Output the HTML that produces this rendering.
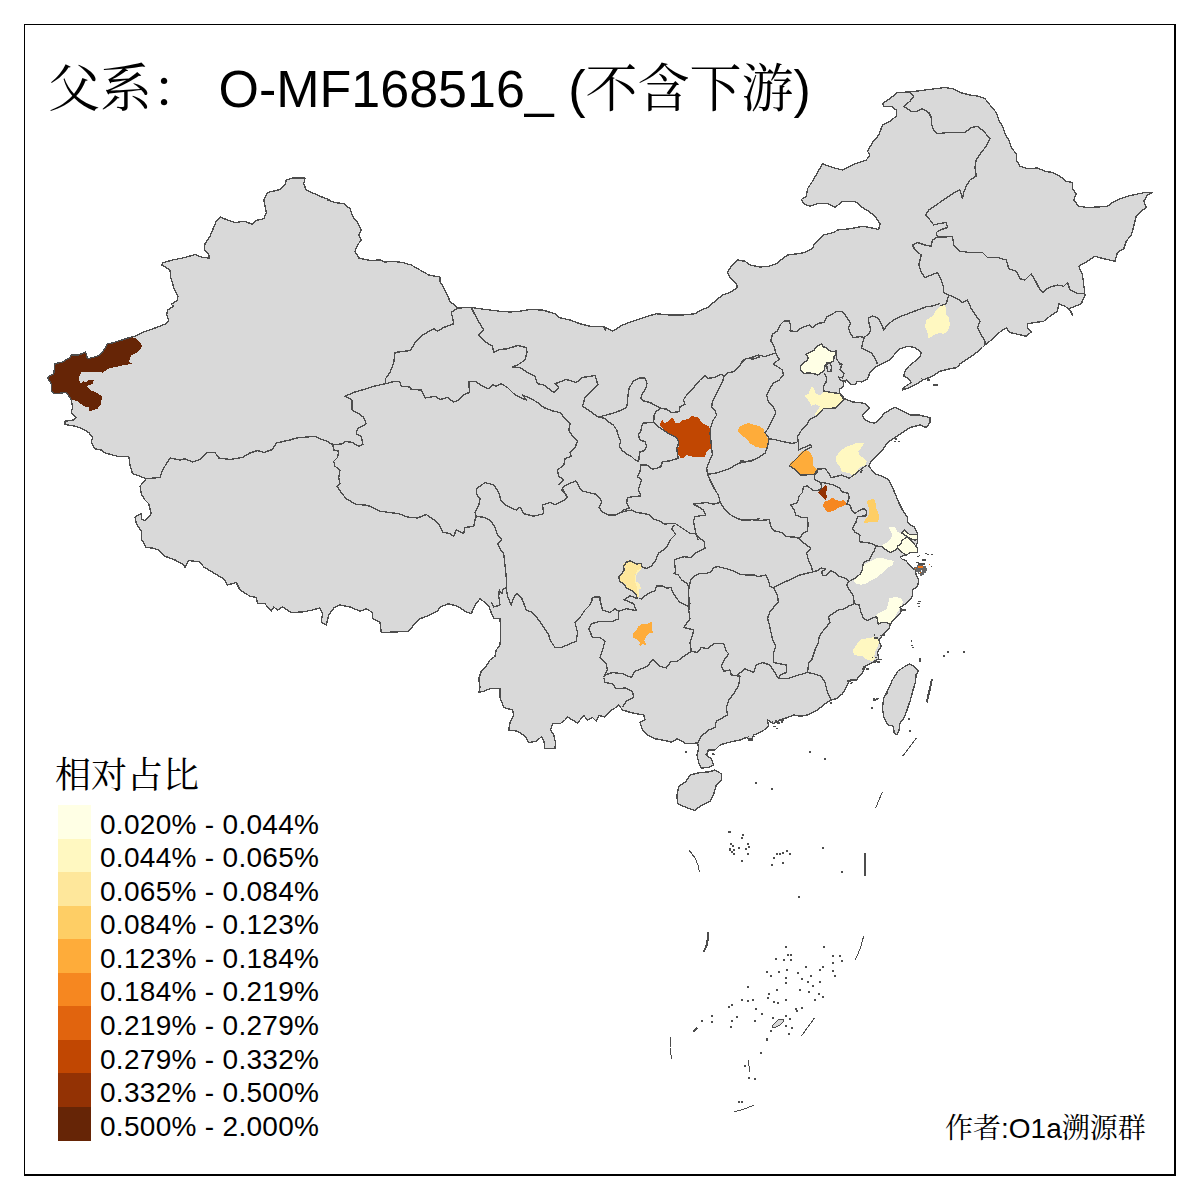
<!DOCTYPE html>
<html><head><meta charset="utf-8"><title>map</title>
<style>
html,body{margin:0;padding:0;background:#fff;}
body{width:1200px;height:1200px;overflow:hidden;position:relative;}
svg{position:absolute;left:0;top:0;}
text{font-family:"Liberation Sans","Noto Serif CJK SC",serif;fill:#000;}
.lt{font-size:28px;letter-spacing:0.3px;}
.t{font-size:52px;}
.cr{font-size:28px;}
.lg{font-size:36px;}
</style></head><body>
<svg width="1200" height="1200" viewBox="0 0 1200 1200">
<rect x="0" y="0" width="1200" height="1200" fill="#fff"/>
<g shape-rendering="crispEdges" stroke-linejoin="round">
<path d="M330,200L320,196.25L306.25,190L303.75,183.75L305,178L292.5,178L286.25,180L285,185L280,189.5L267.5,192.5L263.75,200L266.25,212.5L263.75,218.75L256.25,220.5L252.5,224.5L245,221.25L235,222.5L227.5,220L220,217L216.25,221.25L210,236.25L205,243.75L204.25,250L208.75,254.5L209.5,258L202.5,257.5L195,254.5L185,257.5L172.5,260L162.5,263L161.75,265L170,270L170.75,277.5L173.75,287.5L178,296.25L177.5,300L171.25,304.5L173.75,306.25L167.5,310L166.75,315L168.75,320L166.25,323.75L155,328L142.5,332.5L135,336.25L131.25,337L112.5,343L107.5,343.75L102.5,352.5L97.5,356.25L87.5,358.75L85.5,352L78.75,355L71.25,355L70,357.5L62.5,362L55,363.75L53.75,373.75L47.5,377.5L51.25,383.75L51.25,391.25L55,393.75L66.25,392.5L71.25,399.5L72.5,407.5L71.25,412.5L76.25,417.5L73.75,420L65,421.25L65,424.5L75,426.25L82.5,428.75L88.75,432.5L92.5,437.5L91.25,442.5L95,448.75L101.25,450L105,453L117.5,456.25L128.75,456.25L130,465L132.5,473.75L140,476.25L146.25,478.75L140,486.25L141.25,493.75L145,500L148.75,503.75L151.25,513.75L145,520.5L141.25,518.75L141.25,513.75L135,517L136.25,523.75L141.25,531.25L141.25,538.75L146.25,547.5L152.5,548L158.75,550L165,556.25L175,560L183.75,564.5L185,568L188.75,560.5L200,562L203.75,567L215,573.75L223.75,578.75L227.5,585L236.25,582.5L240,590L250,596.25L256.25,597.5L257.5,603.75L265,603.75L271.25,611.25L273.75,607L277.5,610L282.5,607L291.25,612.5L302.5,612L312.5,610L320,608L322.5,613.75L321.25,622.5L326.25,625L328.75,615L333.75,608L340,605L350,607L360,611.25L366.25,608.75L372.5,612.5L372.5,618.75L380,622.5L381.25,632.5L395,632L408.75,631.25L413.75,625L420,618.75L430,615L437.5,611.25L440,607L448.75,603.75L457.5,606.25L465,611.25L471.25,613.75L475,605L480,598.75L485,602.5L488.75,606.25L491.25,612.5L493.75,618.75L500,618.75L500.75,632.5L500,645L496.25,650L495,656.25L490,660L486.25,666.25L481.25,671.25L478.75,678.75L480,687.5L478.75,692.5L483.75,691.25L490,688.75L500,688.75L500,697.5L503.75,707.5L512.5,710L513.75,715L510,722.5L508.75,730L517.5,731.25L525,736.25L528.75,742.5L536.25,741.25L541.25,737L543.75,740L545,748.75L555,748.75L555.5,742.5L553.75,735L550.5,730L552.5,723.75L560,723.75L565,720L567.5,717L577.5,723L583.75,715.5L587.5,720L592.5,717.5L596.25,721.25L598.75,715.5L605,717L610,711.25L615,708L618.75,705L622.5,710L632.5,713L643.75,715L645,719.5L640,722.5L642.5,730L647.5,735L655,738.75L665,740.5L671.25,742L677.5,738.75L686.25,743.75L697.5,743L698.75,747.5L697,755L698.75,762.5L701.25,768L708.75,767.5L713.75,765L711.25,758.75L706.25,755L708.75,750L715,750L720,745L726.25,743L733.75,741.25L740,740L746.25,737.5L751.25,740L753.75,735L762.5,731.25L768.75,726.25L767.5,720L773.75,723.75L780,720L787.5,717.5L793.75,715L800,716.25L807.5,715L817.5,710L825,703.75L831.25,700L836.25,698.75L842.5,693.75L847.5,685L850,680L856.25,680L862.5,672.5L865,666.25L872.5,662.5L878.75,658.75L877.5,652.5L881.25,646.25L878.75,640L883.75,633.75L888.75,628.75L891.25,622.5L897.5,616.25L902.5,610L900,607.5L907.5,602.5L912.5,596.25L912.5,590L917.5,586.25L918.75,580L916.25,575L915,569.5L913,569L911,566.5L908,563.5L906,560.5L902.5,559.5L900.25,557.25L904,555.5L906,555.25L910.5,552.5L917.5,552.75L917.5,548L916,545.5L917.5,543L917.5,539L917.25,533.5L916,530L914,526.5L911,525.5L908,523L907.25,520L907.5,517.5L902.5,510L898.75,502.5L896.25,496.25L892.5,487.5L888.75,480L882.5,476.25L875,473.75L868.75,466.25L871.25,461.25L876.25,456.25L882.5,450L887.5,442.5L895,437.5L902.5,432.5L910,427.5L920,425L926.25,427.5L930,422.5L930,417.5L923.75,416.25L918.75,415L910,415L902.5,411.25L895,407.5L890,410L883.75,413.75L880,418.75L875,423L870,422.5L863.75,418.75L862.5,415L866.25,411.25L869.5,407.5L865,403.75L860,402.5L852.5,402L844.75,398.75L839.25,393L839.75,389L843.25,386.75L844,381.25L846.75,379.75L848.75,382.75L852,384.75L856,384L857.25,381.25L862,382L867.5,378.75L870,372.5L875,367.5L882.5,363.75L890,360L895,353.75L900,348.75L907.5,346.25L915,347.5L921.25,352.5L920,356.25L915,361.25L908.75,366.25L905,371.25L903.75,376.25L908.75,378.75L911.25,382.5L903.75,387.5L902,390L910,387.5L917.5,383.75L922.5,380L932.5,376.25L940,371.25L950,368.75L957.5,367.5L960,363.75L967.5,358.75L975,353.75L982.5,347.5L985,345L991.25,340L996.25,335L1002.5,330L1006.25,328L1010,332.5L1018.75,334.5L1026.25,336.25L1031.25,332L1027.5,327.5L1027.5,323.75L1035,322.5L1043.75,321.25L1050,316.25L1057.5,311.25L1058.75,303.75L1065,306.25L1070,310L1072.5,315L1068.75,308.75L1075,306.25L1081.25,303.75L1085,295L1083.75,285L1082.5,275L1078.75,266.25L1087.5,261.25L1095,256.25L1103.75,258.75L1115,261.25L1117.5,252.5L1123.75,248.75L1126.25,241.25L1131.25,235L1133.75,226.25L1136.25,216.25L1141.25,211.25L1146.25,207.5L1143.75,201.25L1147.5,195L1152.5,192.5L1145,192.5L1135,194.5L1127.5,196.25L1120,198.75L1112.5,202.5L1107.5,206.25L1097.5,207L1087.5,207.5L1078.75,206.25L1073.75,200L1076.25,193.75L1072.5,188.75L1072.5,182.5L1066.25,181.25L1060,176.25L1052.5,172.5L1045,171.25L1037.5,168L1027.5,168.75L1020,166.25L1016.25,160L1016.25,153.75L1011.25,147.5L1008.75,140L1005,133.75L1002.5,126.25L998.75,120L996.25,112.5L990,105L985,98.75L978.75,96.25L970,95L960,92.5L952.5,88.75L945,87.5L935,88.75L925,90L910,92L897.5,92.5L891.25,97.5L882.5,103.75L883.75,106.25L891.25,106.25L896.25,110L896.25,116.25L890,121.25L882.5,125L878.75,135L872.5,142.5L867.5,151.25L870,155L866.25,160L855,163.75L842.5,170L832.5,167.5L822.5,163.75L817.5,172.5L812.5,181.25L807.5,188.75L806.25,196.25L801.25,199.5L803.75,203.75L810,206.25L817.5,203.75L827.5,203.75L835,207.5L842.5,201.25L855,201.25L862.5,207.5L868.75,211.25L875,216.25L880,223.75L878.75,229.5L870,227.5L862.5,226.25L850,228.75L837.5,230L833.75,232.5L823.75,235L818.75,240L813.75,245L813.75,247.5L805,252.5L797.5,253.75L787.5,255L782.5,258.75L776.25,263.75L768.75,266.25L760,267L750,265L745,261.25L737.5,260L731.25,266.25L727.5,272.5L730,277.5L736.25,283.75L737.5,287.5L730,292.5L722.5,295L715,301.25L707.5,307.5L701.25,310L695,313.75L682.5,315L670,315L656.25,313.75L643.75,317.5L632.5,321.25L622.5,325L612.5,331.25L605,327.5L605,330L603.75,326.25L590,326.25L580,323.75L570,320L558.75,317.5L555,313.75L542.5,310L530,309.5L520,311.25L510,312L500,311.25L490,310L480,308.75L471.25,307.5L457.5,308L450,301.25L445,290L440,281.25L440,277L428.75,275L420,270L411.25,265L402.5,262.5L392.5,261.25L385,262L380,260L370,260.5L358.75,258L355,251.25L357.5,245L361.25,240L358.75,235L361.25,230L357.5,222.5L352.5,216.25L350,208.75L343.75,203.75L335,202.5L327.5,200ZM690,775L700,772.5L708.75,772L715,770L721.25,773.75L721.25,780L716.25,785L713.75,793.75L710,801.25L700,806.25L695,810.5L686.25,807.5L677.5,803.75L677,795L678.75,786.25L686.25,781.25ZM909.6,664L914,666.4L918.4,671L916,675L915.6,682L913,690L910.4,700L907,710L904,718L900,723L899,730L897,734.4L894.4,733.6L893,726L888,725L884,718L882.4,709L883.6,698L888,690L892.4,680L898,671L904,667Z" fill="#D9D9D9" stroke="none"/>
<path d="M131.25,337L112.5,343L107.5,343.75L102.5,352.5L97.5,356.25L87.5,358.75L85.5,352L78.75,355L71.25,355L70,357.5L62.5,362L55,363.75L53.75,373.75L47.5,377.5L51.25,383.75L51.25,391.25L55,393.75L66.25,392.5L71.25,399.5L77.5,401.25L83.75,406.25L88.75,407.5L89.5,411.25L97.5,408.75L101.25,403.75L101.75,396.25L96.25,392.5L90,390L86.25,386.25L92.5,383.75L93.75,380.5L88.75,379.5L86.25,382.5L83.75,381.25L80,383.75L78.75,377.5L81.25,372L87.5,372L102.5,372.5L110,368L122.5,365.5L132.5,363.75L128.75,362L131.25,355L137.5,352.5L142.5,346.25L140,342.5L135,338Z" fill="#662506" stroke="none"/>
<path d="M651.5,622L652,624.5L652.5,627L651.5,629L653,631.5L652.5,633.5L650,632.5L647,635L645.5,638L644,640.5L646,644L645.5,645.5L643,644L640.5,645.5L639,645L640,642.5L638.5,640.5L636,639L633.5,638L632.5,633.5L634.5,632.5L637,629L638,626.5L641,624.5L643,623.5L646,624L649,623Z" fill="#FEAC3A" stroke="none"/>
<path d="M943.75,303.75L946.25,308.75L945.5,313.75L948.75,317.5L950,325L947.5,331.25L943.75,333.75L938.75,333L933.75,335L928.75,338.75L927.5,332.5L925,326.25L926.25,320L932.5,316.25L936.25,310L941.25,305Z" fill="#FFF8C1" stroke="none"/>
<path d="M660.83,421.67L662.5,420L664.17,423.33L668.33,421.67L670.83,418.33L673.33,418.33L675,422.5L679.17,423.33L682.5,420L688.33,419.17L691.67,416.33L695.83,416.67L699.17,418.33L701.67,422.5L705.83,425L709.17,426.67L710.83,433.33L711.33,441.67L710.83,448.33L706.67,451.67L705,456.67L696.67,457.5L692.5,456.67L686.67,455L683.33,458.33L680,458.33L679.17,455L676.67,453.33L675.83,448.33L678.67,446.67L678.67,440L676.67,436.67L671.67,435L666.67,432.5L663.33,429.17L660,425.83Z" fill="#C14702" stroke="none"/>
<path d="M821.67,343.67L823.33,346.67L826.67,348.33L830,350.83L833.33,351.67L836.33,350.83L835.83,354.17L833.33,357.5L833.33,360.83L830.83,362.5L826.67,363L825,365.83L824.17,370L821.67,372.5L817.5,375L813.33,373.33L808.33,373L804.17,373.33L800.83,370.83L800.33,366.67L802.5,363.33L806.67,360.83L808.33,357.5L805.83,354.17L810,352.5L814.17,350L817.5,345.83Z" fill="#FFFFE5" stroke="none"/>
<path d="M811.67,386.33L814.17,389.17L815.83,393.33L820,395.33L823.33,392.5L826.67,391.67L833.33,392.5L840,393.67L843.33,399.17L835.83,408L823.33,408.67L819.17,413.33L816.67,415.83L815,414.17L817.5,410L820,406.67L815.83,404.17L811.67,405.83L809.17,401.67L806.67,398.33L804.17,395.83L808.33,394.17L810,390Z" fill="#FFF8C1" stroke="none"/>
<path d="M739,427L743.3,425L748.3,422.8L753.3,424.5L757,425.5L760,426.7L763.3,429L765,433L767.5,437.5L768.7,441.7L767.5,448.3L761.7,448.3L755.8,446.7L750,443.3L746.7,439L742.5,435.8L738,431.5Z" fill="#FEAC3A" stroke="none"/>
<path d="M806.67,450L810,452.5L812.5,457.5L812.5,464.17L815,467.5L817,470L815.83,474.17L810,474.67L800.83,475L797.5,471.67L795,468.33L789.17,465.83L790.83,462.5L795.83,459.17L799.17,454.17L803.33,450.83Z" fill="#FEAC3A" stroke="none"/>
<path d="M856.67,442.5L864.17,443.33L860.83,448.33L858.33,451.67L859.67,455.83L864.17,458.33L866.67,460.83L865.83,465L860,467.5L856.67,471.67L853.33,477.5L850,473.33L845.83,472.5L841.67,471.67L840,466.67L836.67,462.5L835.83,457.5L838.33,453.33L842.5,449.17L846.67,446.67L851.67,445Z" fill="#FFF8C1" stroke="none"/>
<path d="M825.83,485L827,487.5L826.33,492.5L826.67,497.5L825.83,500.83L823.33,498.33L820.83,495.83L818.33,492.5L819.17,490L822.5,488.33L824.17,485.83Z" fill="#933204" stroke="none"/>
<path d="M832.5,497.5L835,500L840,500.83L844.17,500L846.67,504.17L843.33,505.83L839.17,507.5L835,510L830.83,511.67L827.5,512L825,509.17L823,505.83L824.17,501.67L827.5,500.83L830.83,499.17Z" fill="#F68720" stroke="none"/>
<path d="M869.17,499.67L874.17,499.17L875.83,503.33L876.33,508.33L878.33,513.33L879.17,518.33L877.5,521.67L871.67,522L864.17,523L865,519.17L868.33,516.67L869.17,510L868,505L866.67,501.67Z" fill="#FECE65" stroke="none"/>
<path d="M889.17,527.5L895,527L897.5,531.67L900.83,533.33L904.17,535L905.83,538.33L902.5,541.67L900,545L897.5,548.33L894.17,550.83L890.83,552.5L887.5,550.83L884.17,549.17L881.67,546.67L883.33,544.17L888.33,541.67L890.83,538.33L892.5,534.17L890,530.83Z" fill="#FFFFE5" stroke="none"/>
<path d="M907,537L912,541.5L917.5,548L917.5,552.5L910.5,552.5L906,555.25L903,553L900,551L897.5,547.5L897.75,546L901,544L902,540.5L906,537.5Z" fill="#FFFFE5" stroke="none"/>
<path d="M901.5,533.25L904.75,530L909.25,534.25L917.25,534.5L917.5,539L915,540L911,539L907,536.5L904,534.5Z" fill="#FFFFE5" stroke="none"/>
<path d="M878.33,557.5L883.33,558.33L889.17,560L894.17,560.83L892.5,565L888.33,567.5L885,570.83L880.83,574.17L876.67,577.5L871.67,580L866.67,583.33L861.67,584.67L856.67,584.17L853.33,580.83L856.67,577.5L860,575L862.5,570L863.33,565L868.33,562.5L873.33,560Z" fill="#FFFFE5" stroke="none"/>
<path d="M889.17,598.33L895.83,597L900.83,598.33L903,601.67L901.67,606.67L898.33,610.83L895.83,615L893.33,620L890.83,624.17L886.67,622.5L881.67,622.5L878.33,624.17L875.83,618.33L876.67,614.17L881.67,611.67L886.67,609.17L888.33,603.33Z" fill="#FFFFE5" stroke="none"/>
<path d="M862.5,639.17L871.67,637.5L875.83,636.67L879.17,641.67L877.5,646.67L875,651.67L874.17,657.5L876.25,656.25L872.5,661.25L867.5,660L862.5,656.25L853.75,655L853,650L856.25,645L860,640Z" fill="#FFF8C1" stroke="none"/>
<path d="M627,560L629,561L632,562.5L635.5,564L638.5,562.5L641,563L642.5,566L641,568.5L637.5,570L636,572.5L635,576L634.8,580L635.5,583L637.5,582L639.5,584L640.5,586.5L640.5,589L637.5,588.5L637,591L638,594L639,597L637.5,598L636,594.5L634.5,592.5L632,591L629,590L626.5,587.5L625.5,584.5L623,583.5L620,582L618.5,579L618,576.8L621,575L623.5,573L625,570L624.5,567.5L623,566L624,563L625.5,561.5Z" fill="#FEE79B" stroke="none"/>
<path d="M641,568.5L637.5,570L636,572.5L635.2,576L635,580L635.6,583L636.6,586L637,590L637.8,594L638.8,597.2L639.6,595L638.8,592L639.2,589.5L640.8,589L640.5,586.5L639.5,584L637.8,582.2L636.2,581.8L636,578L636.8,574L639,571.5L641.2,569.5Z" fill="#FFF1B4" stroke="none"/>
<path d="M146.25,478.75L160,477.5L162.5,470L168.75,460L170,458L180,460L185,458.75L192.5,462L200,459.5L207.5,452.5L215,452.5L218.75,458L230,459.5L242.5,457.5L250,453L257.5,450.5L263.75,452.5L272.5,449.5L276.25,443L290,440L296.25,438L315,436.25L320,438.75L327.5,441.25L332.5,445M332.5,445L332.5,443.75L333.75,450L338.75,451.25L337.5,457.5L333.75,461.25L335,466.25L340,470L338.75,477.5L340,483.75L337,486.25L341.25,492.5L346.25,498.75L356.25,504.5L365,505L370,506.25L380,511.25L390,512.5L398.75,513.75L407.5,517L417.5,518L426.25,514.5L436.25,521.25L440,526.25L442.5,532L450,533.75L453.75,536.25L456.25,530L463.75,533.75L465,527.5L473.75,526.25L475,520L476.25,516.25M476.25,516.25L475,512.5L478.75,505L480,498.75L476.25,493.75L476.25,488.75L480,486.25L485,482.5L493.75,485L498.75,492.5L501.25,501.25L507.5,506.25L516.25,510L520,507L523.75,513.75L533.75,516.25L543.75,513.75L542.5,505L550,502.5L555,505L562.5,501.25L567.5,497.5L562.5,488.75M476.25,516.25L485,517.5L491.25,521.25L495,527.5L497.5,535L502,540L497.5,543.75L500,548.75L503.75,553.75L505,565L506.25,577.5L506.25,587.5M506.25,587.5L507.5,596.25L511.25,605L513.75,597.5L517,593L521.25,597.5L522.5,600M592.5,600L592.5,597.5L600,597M506.25,587.5L502.5,589.5L502,593.75L499.25,590L498.75,596.25L500,605L493.75,607L491.25,602.5M522.5,600L526.25,610L532.5,612.5L538.75,620L543.75,627.5L548.75,635L550,640L555,647.5L561.25,647.5L570,643.75L576.25,641.25L577.5,632.5L575,622.5L580,617.5L585,610L590,605L592.5,600M600,600L602.5,610L610,612.5L615,608.75L618.75,611.25L618.75,618.75L612.5,621.25L600,621.25L591.25,623.75L588.75,628.75L592.5,637.5L600,637.5L605,641.25L602.5,650L600,657.5L606.25,663.75L607.5,670L603.75,677.5M618.75,611.25L626.25,608.75L636.25,610.5L633.75,603.75L625,600M603.75,677.5L605,682.5L612.5,683.75L616.25,688.75L625,688L632.5,691.25L633.75,697.5L626.25,701.25L622.5,707.5M605,675L612.5,672.5L622.5,673.75L631.25,677.5L635,671.25L647.5,666.25L652.5,659.5L660,666.25L666.25,668L671.25,661.25L677.5,661.25L683.75,656.25L691.25,651.25M691.25,651.25L690,642.5L692.5,635L693.75,630L683.75,627.5L690,618.75L688.75,610L690,602.5M691.25,651.25L697.5,652.5L701.25,647.5L707.5,648.75L713.75,643.75L723.75,643.75L726.25,651.25L728.75,653.75L725,658.75L721.25,666.25L723.75,671.25L730,670L731.25,675L740,676.25M740,676.25L738.75,685L733.75,693.75L728.75,700L726.25,707.5L727.5,715L716.25,721.25L715,727.5L708.75,730L701.25,736.25L697.5,743M831.25,700L827.5,692.5L825,682.5L821.25,676.25L813.75,673.75L807.5,672.5M807.5,672.5L808.75,662.5L811.75,660M773.25,660L773.75,662.5L786.25,665L786.25,672.5L780,675L778.75,678.75M778.75,678.75L787.5,678.75L798.75,675L807.5,672.5M778.75,678.75L770,665L762.5,662.5L756.25,665L753.75,672.5L745,668.75L737.5,675M910,92L913.75,96.25L910,101.25L903.75,106.25L911.25,111.25L917.5,111.25L922.5,108.75L928.75,112.5L931.25,117.5L931.25,123.75L933.75,130L937.5,133.75L947.5,132.5L955,132.5L965,132.5L971.25,127.5L977.5,126.25L983.75,131.25L990,138.75L986.25,146.25L981.25,152.5L976.25,160L975,167.5L976.25,176.25L970,180L966.25,186.25L963.75,192.5L962.5,198.75L960,190L952.5,193.75L945,198.75L936.25,205L928.75,210L925.5,215L930,220L933.75,225L938.75,223.75L946.25,222.5L947.5,227.5L940,230L936.25,232.5L937.5,237M937.5,237L945,237L952.5,236.25L953.75,245L960,251.25L970,252.5L982.5,252.5L987.5,257.5L997.5,257.5L1006.25,260L1008.75,268.75L1016.25,271.25L1020,278.75L1025,280L1031.25,273.75L1035,280L1038.75,287.5L1042.5,292.5L1048.75,287.5L1057.5,285L1063.75,286.25L1067.5,282.5L1070,290L1077.5,293.75L1085,293.75M937.5,237L932.5,240L931.25,246.25L925,245L917.5,242.5L912.5,245L915,250L921.25,255L918.75,265L921.25,272.5L925,277.5L931.25,275L937.5,272.5L941.25,280L943.75,287.5L943.75,292.5L948.75,295M948.75,295L957.5,298.75L962.5,302.5L967.5,300L971.25,308.75L976.25,316.25L980,321.25L977.5,327.5L981.25,335L985,341.25L985,345M948.75,295L946.25,303.75L940,305.75M457.5,308L451.25,312.5L452.5,317.5L453.75,323.75L443.75,327.5L437.5,331.25L433.75,328.75L422.5,335L415,342.5L410.5,350.5L395,352.5L393.75,362.5L390,372.5L385.5,378.75L385.5,383.75M471.25,307.5L475,315L480,323.75L483.75,330L478.75,335L486.25,342.5L492.5,346.25L493.75,352.5L500,349.5L507.5,348.75L517.5,345.5L526.25,347.5L527,352.5L525,360L517.5,365L512.5,367L520,367.5L527.5,372.5L535,376.25L537.5,383.75L543.75,385L548.75,388.75L553.75,392.5L558.75,387.5L555,383.75L566.25,379.5L576.25,382.5L582.5,377.5L595,375.5L598,385L591.25,391.25L585,397.5L582.5,406.25L590,411.25L598.75,417.5M385.5,383.75L373.75,386.25L363.75,389.5L355,392L345,396.25L352,400L352,410L358.75,413.75L363.75,417.5L366.25,423.75L357.5,428.75L356.25,433.75L361.25,436.25L363,444.5L358.75,446.25L352.5,442.5L345,441.25L342.5,443.75L332.5,445M385.5,383.75L395,381.25L400,382L401.25,386.25L410,387L411.25,389.5L421.25,390L425,398L435,396.25L440,399.5L447.5,397.5L453.75,402L458.75,400L463.75,394.5L469.5,392.5L468.75,381.25L475,381.25L482.5,386.25L488.75,388.75L492.5,384.5L496.25,386.25L501.25,383.75L507.5,387.5L513.75,393.75L520,397.5L526.25,400L522.5,395L531.25,398.75L537.5,402.5L543.75,407.5L553.75,411.25L560,412.5L566.25,420L570,423.75L568.75,430L572.5,436.25L577.5,441.25L575,447.5L570,452.5L571.25,456.25L565,458.75L563.75,465L557.5,470L558.75,476.25L563.75,480L558.75,485M598.33,417L606.67,415L615,412.5L621.67,410L626.67,407.5L627.5,401.67L628,395L629.17,388.33L633.33,380.83L640,378L645,378L647,383.33L645.83,388.33L642.5,393.33L640.83,398.33L643.33,400.83L650,402.5L653.33,404.17L658.33,407L660.83,408.33M660.83,408.33L656.67,410.83L654.17,415L653.67,422.5M653.67,422.5L643.33,423L641.67,426.67L640.83,430.83L638.33,435L640,440L645,441.67L646.67,446.67L644.17,450.83L640,451.67L639.17,456.67L638.67,461.67M598.33,417L605,418.33L608.33,421.67L613.33,425L616.67,430L618.33,435.83L620.83,440.83L619.17,445.83L621.67,450L626.67,454.17L631.67,456.67L635,460L638.67,461.67M660.83,408.33L666.67,409.17L671.67,412.5L679.17,411.67L680,406.67L685,404.17L683.33,400L686.67,395L691.67,390L695,385.83L700,380L705,375.83L708.33,378.33L715,377.5L720.83,374.17L724.17,375.83M724.17,375.83L728.33,372.5L734.17,371.67L739.17,366.67L742.5,360.83L746.67,358.33L753.33,359.17L760,356.67M724.17,375.83L722.5,381.67L719.17,388.33L715.83,395L712.5,401.67L711.67,406.67L715,410.83L716.67,415L713.33,420L710.83,426.67L710,433.33L710.83,440L711.67,448.33L712.5,455L709.17,461.67L706.67,468.33L707.5,474.17M707.5,474.17L715,473.33L723.33,470.83L730,468.33L738.33,463.33L746.67,461.67L755,459.17L760,456.67M653.67,422.5L658.33,426.67L663.33,430L668.33,433.33L673.33,435.83L677.5,438.33L678.67,443.33L676.67,448.33L677.5,454.17L678.33,458.33L670,460.83L662.5,461.67L660.83,466.67L656.67,468.33L652.5,469.17L646.67,465L640.83,465L640,471.67L637.5,476.67L641.67,480L639.67,485L638.33,490L640.83,495.83L633.33,496.67L627.5,497.5L626.67,502.5L629.17,508.33L623.33,510L620.83,512.5M707.5,474.17L710,480L712.5,485L715,490L718.33,495L720.33,502.5M720.33,502.5L713.33,504.17L706.67,502.5L700,503.33L693.33,504.17L698.33,506.67L703.33,510L705.83,515L700,515.83L695,516.67L693.33,520.83L694.67,526.67L695.83,533.33L698.33,540M720.33,502.5L724.17,508.33L728.33,513.33L735,517.5L741.67,520L750,520L756.67,519.17L760,518.33M620.83,512.5L626.67,510.83L631.67,510L636.67,512.5L643.33,513.33L650,515L653.33,519.17L659.17,520.83L665,524.17L670,523.33L675,523.33M675,523.33L680,526.67L685,530L690,533.33L695.83,533.33M620.83,512.5L615,515L608.33,515L601.67,511.67L599.17,507.5L601.67,502.5L600,498.33L595.83,494.17L588.33,492.5L581.67,490.83L579.17,486.67L575.83,480.83L570,483.33L563.33,486.67L561.67,490L565,493.33L567.5,497.5L563.33,500.83L560,502.5M740,364.17L745,359.17L751.67,357.5L758.33,355L765,356.67L771.67,354.17L775.83,353.33M775.83,353.33L774.17,346.67L770.83,340.83L772.5,334.17L777.5,330.83L780,325L784.17,320.83L789.17,320.83L790.83,326.67L790,330.83L796.67,331.67L801.67,327.5L809.17,325L812.5,327.5L818.33,323.33L824.17,322.5L826.67,316.67L832.5,314.17L835.83,311.67L841.67,311.33L845.83,315.83L848.33,320L850.83,323.33L848.33,328.33L850.83,334.17L853.33,337.5L860,336.67L864.17,337.5M864.17,337.5L868.33,334.17L870.83,330L869.17,324.17L868.33,318.33L872.5,315.83L878.33,318.33L881.67,324.17L883.67,330L887.5,325L893.33,320L900,316.67L906.67,314.17L913.33,311.67L920,309.17L926.67,306.67L933.33,305.83L940,303.33M864.17,337.5L862.5,343.33L861.67,348.33L866.67,350.83L871.67,353.33L875,358.33L877.5,364.17M775.83,353.33L779.17,359.17L773.33,364.17L777.5,366.67L782.5,370L783.33,375L779.17,380L773.33,383.33L770,388.33L766.67,395L768.33,401.67L773.33,406.67L775.83,412.5L772.5,420L768.33,428.33L765,432.5L769.17,438.67M769.17,438.67L776.67,440L783.33,441.67L791.67,443.33L797.5,442.5M769.17,438.67L767.5,446.67L765,453.33L758.33,457.5L750,461.67L740,460.83M844.17,399.17L835.83,408L823.33,408.67L816.67,415.83L810,419.17L806.67,425L801.67,430L797.5,436.67L798.33,442.5M798.33,442.5L798.67,450L805.83,446.67L810.83,444.67L811.33,447L804.17,450.83L796.67,458.33L789.17,465.83L795,469.17L800.83,475L813.33,474.67L816.67,473.33M816.67,473.33L817.5,469.17L825,468.67L828.33,472.5L830.83,477.5L835.83,476.67L841.67,475L849.17,478.33L855,474.17L860,470L866.67,465M833.33,360L836.67,351.67L836.33,358.33L840,364.17L842,364.17L840,370L844.17,373.33L842.5,378L838.67,377L840,380L845.83,382M824.17,373.33L826.67,378.33L825.83,382.5L823.33,386.67L823.33,390.83L831.67,392.5L840,393.67L843.33,398.67M826.67,364.17L830,363.33L831.67,366.67L830.83,371.67L827.5,371.67L826.67,364.17M821.67,343.67L823.33,346.67L826.67,348.33L830,350.83L833.33,351.67L836.33,350.83L835.83,354.17L833.33,357.5L833.33,360.83L830.83,362.5L826.67,363L825,365.83L824.17,370L821.67,372.5L817.5,375L813.33,373.33L808.33,373L804.17,373.33L800.83,370.83L800.33,366.67L802.5,363.33L806.67,360.83L808.33,357.5L805.83,354.17L810,352.5L814.17,350L817.5,345.83L821.67,343.67M907,537L912,541.5L917.5,548L917.5,552.5L910.5,552.5L906,555.25L903,553L900,551L897.5,547.5L897.75,546L901,544L902,540.5L906,537.5L907,537M901.5,533.25L904.75,530L909.25,534.25L917.25,534.5L917.5,539L915,540L911,539L907,536.5L904,534.5L901.5,533.25M817,470L814.17,475L815,480L820.83,482.5L821.67,488.33L819.17,490M819.17,490L813.33,490.83L807.5,485.83L803.33,486.67L802.5,492.5L799.17,495.83L797.5,502.5L790.83,505L794.17,510L795.83,515L801.67,517.5L807.5,517.5L808,525L807.5,530.83L803.33,533.33L799.17,538.33M821.67,482.5L826.67,483.33L833.33,485L840,488.33L841.67,491.67L848.33,493.33L849.17,498.33L846.67,504.17L850,505L851.67,510L855,513.33L860,510L864.17,508.67L866.67,511.67L865.83,515.83L857.5,516.67L855.83,522.5L852.5,528.33L855,532.5L860,535L859.17,541.67L865,542.5L871.67,543.33L875.83,545.83M875.83,545.83L881.67,546.67L887.5,550.83L890.83,552.5L894.17,550.83L897.5,548.33L900,550L902.5,553.33M875.83,545.83L874.17,550.83L871.67,555L869.17,560L863.33,562.5L862.5,569.17L860,574.17L855,578.33L850,580.83M849.17,580.83L845,578.33L838.33,575.83L835,572.5L830.83,570.83L826.67,575L822.5,575.83L821.67,571.67L825.83,569.17L821.67,568L816.67,570.83L812.5,572M799.17,538.33L804.17,543.33L810.83,548.33L806.67,553.33L808.33,560L811.67,566.67L812.5,572M812.5,572L806.67,573.33L800,575L791.67,579.17L783.33,582.5L773.33,587.5M740,519.17L750,519.67L761.67,520.33L769.17,519.67L770.83,526.67L774.17,530.83L781.67,532.5L786.67,536.67L794.17,537L799.17,538.33M773.33,587.5L770,586.67L768.33,580L765.83,575L758.33,576.67L754.17,575L746.67,575L740,574.17M773.33,587.5L777.5,595L778.33,601.67L774.17,606.67L770,611.67L767.5,618.33L769.17,624.17L770.83,631.67L772.5,639.17L775.83,646.67L773.33,653.33L773.33,660M849.17,580.83L846.67,585L850,590.83L853.33,595.83L854.17,603.33M854.17,603.67L849.17,605.83L843.33,609.17L838.33,610L833.33,613.33L828.33,616.67L830,622.5L825.83,627.5L822.5,631.67L819.17,636.67L818.33,643.33L815,650L813.33,655L811.67,660M854.17,603.67L859.17,605L860.83,611.67L863.33,618.33L867.5,620.83L873.33,617.5L876.67,616.67L878.33,624.17L881.67,622.5L886.67,622.5L890.83,625M674.17,525L671.67,529.17L675.83,534.17L670.83,539.17L667.5,545.83L663.33,550L658.33,553.33L655.83,560L651.67,565.83L646.67,568.33L642.5,567.5L640.83,563.33L636.67,564.17L630,560.83L625.83,562.5L623.67,566.67L624.17,570L621.67,574.17L618.67,577L620,581.67L624.17,584.17L626.67,588.33L632.5,590.83L635.83,594.17L637.5,599.17M637.5,599.17L635,597.5L630,595.83L624.17,599.67L625,600M600,600L600,597.5L595,596.67L591.67,598.33L592.5,600M639.17,598.33L641.67,599.17L645,595.83L650,592.5L655,590.83L656.67,585.83L661.67,585.83L666.67,588.33L670.83,587.5L673.33,593.33L676.67,598.33L680,602.5L686.67,605.83L689.17,606.67M689.17,606.67L689.17,600L688.33,593.33L689.17,586.67M695,533.33L700,538.33L704.17,541.67L705,548.33L700,550.83L695,553.33L690.83,557.5L684.17,556.67L678.33,558.33L674.17,560L675,566.67L675.83,571.67L674.17,573.33L678.33,575L681.67,580L686.67,583.33L689.17,586.67M689.17,586.67L690.83,580L695,575.83L700,573.33L706.67,573.33L711.67,571.67L713.33,567.5L718.33,566.67L725,568.33L733.33,570.83L740,574" fill="none" stroke="#4D4D4D" stroke-width="1.35"/>
<path d="M330,200L320,196.25L306.25,190L303.75,183.75L305,178L292.5,178L286.25,180L285,185L280,189.5L267.5,192.5L263.75,200L266.25,212.5L263.75,218.75L256.25,220.5L252.5,224.5L245,221.25L235,222.5L227.5,220L220,217L216.25,221.25L210,236.25L205,243.75L204.25,250L208.75,254.5L209.5,258L202.5,257.5L195,254.5L185,257.5L172.5,260L162.5,263L161.75,265L170,270L170.75,277.5L173.75,287.5L178,296.25L177.5,300L171.25,304.5L173.75,306.25L167.5,310L166.75,315L168.75,320L166.25,323.75L155,328L142.5,332.5L135,336.25L131.25,337L112.5,343L107.5,343.75L102.5,352.5L97.5,356.25L87.5,358.75L85.5,352L78.75,355L71.25,355L70,357.5L62.5,362L55,363.75L53.75,373.75L47.5,377.5L51.25,383.75L51.25,391.25L55,393.75L66.25,392.5L71.25,399.5L72.5,407.5L71.25,412.5L76.25,417.5L73.75,420L65,421.25L65,424.5L75,426.25L82.5,428.75L88.75,432.5L92.5,437.5L91.25,442.5L95,448.75L101.25,450L105,453L117.5,456.25L128.75,456.25L130,465L132.5,473.75L140,476.25L146.25,478.75L140,486.25L141.25,493.75L145,500L148.75,503.75L151.25,513.75L145,520.5L141.25,518.75L141.25,513.75L135,517L136.25,523.75L141.25,531.25L141.25,538.75L146.25,547.5L152.5,548L158.75,550L165,556.25L175,560L183.75,564.5L185,568L188.75,560.5L200,562L203.75,567L215,573.75L223.75,578.75L227.5,585L236.25,582.5L240,590L250,596.25L256.25,597.5L257.5,603.75L265,603.75L271.25,611.25L273.75,607L277.5,610L282.5,607L291.25,612.5L302.5,612L312.5,610L320,608L322.5,613.75L321.25,622.5L326.25,625L328.75,615L333.75,608L340,605L350,607L360,611.25L366.25,608.75L372.5,612.5L372.5,618.75L380,622.5L381.25,632.5L395,632L408.75,631.25L413.75,625L420,618.75L430,615L437.5,611.25L440,607L448.75,603.75L457.5,606.25L465,611.25L471.25,613.75L475,605L480,598.75L485,602.5L488.75,606.25L491.25,612.5L493.75,618.75L500,618.75L500.75,632.5L500,645L496.25,650L495,656.25L490,660L486.25,666.25L481.25,671.25L478.75,678.75L480,687.5L478.75,692.5L483.75,691.25L490,688.75L500,688.75L500,697.5L503.75,707.5L512.5,710L513.75,715L510,722.5L508.75,730L517.5,731.25L525,736.25L528.75,742.5L536.25,741.25L541.25,737L543.75,740L545,748.75L555,748.75L555.5,742.5L553.75,735L550.5,730L552.5,723.75L560,723.75L565,720L567.5,717L577.5,723L583.75,715.5L587.5,720L592.5,717.5L596.25,721.25L598.75,715.5L605,717L610,711.25L615,708L618.75,705L622.5,710L632.5,713L643.75,715L645,719.5L640,722.5L642.5,730L647.5,735L655,738.75L665,740.5L671.25,742L677.5,738.75L686.25,743.75L697.5,743L698.75,747.5L697,755L698.75,762.5L701.25,768L708.75,767.5L713.75,765L711.25,758.75L706.25,755L708.75,750L715,750L720,745L726.25,743L733.75,741.25L740,740L746.25,737.5L751.25,740L753.75,735L762.5,731.25L768.75,726.25L767.5,720L773.75,723.75L780,720L787.5,717.5L793.75,715L800,716.25L807.5,715L817.5,710L825,703.75L831.25,700L836.25,698.75L842.5,693.75L847.5,685L850,680L856.25,680L862.5,672.5L865,666.25L872.5,662.5L878.75,658.75L877.5,652.5L881.25,646.25L878.75,640L883.75,633.75L888.75,628.75L891.25,622.5L897.5,616.25L902.5,610L900,607.5L907.5,602.5L912.5,596.25L912.5,590L917.5,586.25L918.75,580L916.25,575L915,569.5L913,569L911,566.5L908,563.5L906,560.5L902.5,559.5L900.25,557.25L904,555.5L906,555.25L910.5,552.5L917.5,552.75L917.5,548L916,545.5L917.5,543L917.5,539L917.25,533.5L916,530L914,526.5L911,525.5L908,523L907.25,520L907.5,517.5L902.5,510L898.75,502.5L896.25,496.25L892.5,487.5L888.75,480L882.5,476.25L875,473.75L868.75,466.25L871.25,461.25L876.25,456.25L882.5,450L887.5,442.5L895,437.5L902.5,432.5L910,427.5L920,425L926.25,427.5L930,422.5L930,417.5L923.75,416.25L918.75,415L910,415L902.5,411.25L895,407.5L890,410L883.75,413.75L880,418.75L875,423L870,422.5L863.75,418.75L862.5,415L866.25,411.25L869.5,407.5L865,403.75L860,402.5L852.5,402L844.75,398.75L839.25,393L839.75,389L843.25,386.75L844,381.25L846.75,379.75L848.75,382.75L852,384.75L856,384L857.25,381.25L862,382L867.5,378.75L870,372.5L875,367.5L882.5,363.75L890,360L895,353.75L900,348.75L907.5,346.25L915,347.5L921.25,352.5L920,356.25L915,361.25L908.75,366.25L905,371.25L903.75,376.25L908.75,378.75L911.25,382.5L903.75,387.5L902,390L910,387.5L917.5,383.75L922.5,380L932.5,376.25L940,371.25L950,368.75L957.5,367.5L960,363.75L967.5,358.75L975,353.75L982.5,347.5L985,345L991.25,340L996.25,335L1002.5,330L1006.25,328L1010,332.5L1018.75,334.5L1026.25,336.25L1031.25,332L1027.5,327.5L1027.5,323.75L1035,322.5L1043.75,321.25L1050,316.25L1057.5,311.25L1058.75,303.75L1065,306.25L1070,310L1072.5,315L1068.75,308.75L1075,306.25L1081.25,303.75L1085,295L1083.75,285L1082.5,275L1078.75,266.25L1087.5,261.25L1095,256.25L1103.75,258.75L1115,261.25L1117.5,252.5L1123.75,248.75L1126.25,241.25L1131.25,235L1133.75,226.25L1136.25,216.25L1141.25,211.25L1146.25,207.5L1143.75,201.25L1147.5,195L1152.5,192.5L1145,192.5L1135,194.5L1127.5,196.25L1120,198.75L1112.5,202.5L1107.5,206.25L1097.5,207L1087.5,207.5L1078.75,206.25L1073.75,200L1076.25,193.75L1072.5,188.75L1072.5,182.5L1066.25,181.25L1060,176.25L1052.5,172.5L1045,171.25L1037.5,168L1027.5,168.75L1020,166.25L1016.25,160L1016.25,153.75L1011.25,147.5L1008.75,140L1005,133.75L1002.5,126.25L998.75,120L996.25,112.5L990,105L985,98.75L978.75,96.25L970,95L960,92.5L952.5,88.75L945,87.5L935,88.75L925,90L910,92L897.5,92.5L891.25,97.5L882.5,103.75L883.75,106.25L891.25,106.25L896.25,110L896.25,116.25L890,121.25L882.5,125L878.75,135L872.5,142.5L867.5,151.25L870,155L866.25,160L855,163.75L842.5,170L832.5,167.5L822.5,163.75L817.5,172.5L812.5,181.25L807.5,188.75L806.25,196.25L801.25,199.5L803.75,203.75L810,206.25L817.5,203.75L827.5,203.75L835,207.5L842.5,201.25L855,201.25L862.5,207.5L868.75,211.25L875,216.25L880,223.75L878.75,229.5L870,227.5L862.5,226.25L850,228.75L837.5,230L833.75,232.5L823.75,235L818.75,240L813.75,245L813.75,247.5L805,252.5L797.5,253.75L787.5,255L782.5,258.75L776.25,263.75L768.75,266.25L760,267L750,265L745,261.25L737.5,260L731.25,266.25L727.5,272.5L730,277.5L736.25,283.75L737.5,287.5L730,292.5L722.5,295L715,301.25L707.5,307.5L701.25,310L695,313.75L682.5,315L670,315L656.25,313.75L643.75,317.5L632.5,321.25L622.5,325L612.5,331.25L605,327.5L605,330L603.75,326.25L590,326.25L580,323.75L570,320L558.75,317.5L555,313.75L542.5,310L530,309.5L520,311.25L510,312L500,311.25L490,310L480,308.75L471.25,307.5L457.5,308L450,301.25L445,290L440,281.25L440,277L428.75,275L420,270L411.25,265L402.5,262.5L392.5,261.25L385,262L380,260L370,260.5L358.75,258L355,251.25L357.5,245L361.25,240L358.75,235L361.25,230L357.5,222.5L352.5,216.25L350,208.75L343.75,203.75L335,202.5L327.5,200ZM690,775L700,772.5L708.75,772L715,770L721.25,773.75L721.25,780L716.25,785L713.75,793.75L710,801.25L700,806.25L695,810.5L686.25,807.5L677.5,803.75L677,795L678.75,786.25L686.25,781.25ZM909.6,664L914,666.4L918.4,671L916,675L915.6,682L913,690L910.4,700L907,710L904,718L900,723L899,730L897,734.4L894.4,733.6L893,726L888,725L884,718L882.4,709L883.6,698L888,690L892.4,680L898,671L904,667Z" fill="none" stroke="#4D4D4D" stroke-width="1.35"/>
<path d="M728,831h2v2h-2zM742,834h2v2h-2zM741,837h2v2h-2zM730,843h2v2h-2zM732,845h2v2h-2zM729,849h2v2h-2zM733,849h2v2h-2zM738,847h2v2h-2zM745,848h2v2h-2zM748,846h2v2h-2zM747,843h2v2h-2zM733,853h2v2h-2zM747,853h2v2h-2zM741,860h2v2h-2zM776,853h2v2h-2zM779,853h2v2h-2zM782,852h2v2h-2zM786,850h2v2h-2zM789,853h2v2h-2zM773,857h2v2h-2zM771,864h2v2h-2zM782,862h2v2h-2zM822,847h2v2h-2zM841,871h2v2h-2zM798,896h2v2h-2zM785,946h2v2h-2zM823,946h2v2h-2zM787,954h2v2h-2zM790,954h2v2h-2zM775,958h2v2h-2zM783,959h2v2h-2zM790,959h2v2h-2zM832,955h2v2h-2zM839,955h2v2h-2zM841,960h2v2h-2zM832,962h2v2h-2zM819,969h2v2h-2zM822,966h2v2h-2zM805,966h2v2h-2zM766,971h2v2h-2zM778,971h2v2h-2zM786,969h2v2h-2zM797,972h2v2h-2zM770,975h2v2h-2zM810,975h2v2h-2zM832,970h2v2h-2zM834,975h2v2h-2zM785,977h2v2h-2zM801,978h2v2h-2zM807,981h2v2h-2zM819,981h2v2h-2zM785,982h2v2h-2zM812,985h2v2h-2zM747,986h2v2h-2zM776,989h2v2h-2zM799,989h2v2h-2zM808,991h2v2h-2zM768,993h2v2h-2zM818,993h2v2h-2zM822,996h2v2h-2zM767,997h2v2h-2zM814,999h2v2h-2zM741,999h2v2h-2zM747,1000h2v2h-2zM752,999h2v2h-2zM773,1001h2v2h-2zM777,1002h2v2h-2zM785,999h2v2h-2zM728,1006h2v2h-2zM731,1004h2v2h-2zM755,1008h2v2h-2zM795,1008h2v2h-2zM801,1007h2v2h-2zM796,1010h2v2h-2zM761,1013h2v2h-2zM711,1015h2v2h-2zM736,1016h2v2h-2zM701,1020h2v2h-2zM711,1021h2v2h-2zM731,1020h2v2h-2zM754,1020h2v2h-2zM772,1017h2v2h-2zM785,1015h2v2h-2zM789,1018h2v2h-2zM730,1026h2v2h-2zM785,1025h2v2h-2zM791,1027h2v2h-2zM770,1030h2v2h-2zM788,1033h2v2h-2zM766,1038h2v2h-2zM744,1065h2v2h-2zM748,1077h2v2h-2zM754,1078h2v2h-2zM738,1101h2v2h-2zM741,1101h2v2h-2zM760,1052h2v2h-2zM766,1039h2v2h-2zM919,658h2v2h-2zM919,660h2v2h-2zM943,655h2v2h-2zM947,651h2v2h-2zM963,651h2v2h-2zM873,698h2v2h-2zM874,699h2v2h-2zM873,699h2v2h-2zM871,707h2v2h-2zM908,718h2v2h-2zM909,730h2v2h-2zM809,751h2v2h-2zM824,758h2v2h-2zM755,782h2v2h-2zM771,788h2v2h-2zM685,751h2v2h-2zM729,831h2v2h-2zM730,843h2v2h-2zM732,845h2v2h-2zM729,848h2v2h-2zM733,849h2v2h-2zM731,851h2v2h-2z" fill="#4D4D4D"/>
<path d="M689,850L695,858L698.4,866L699.4,872.4" fill="none" stroke="#4D4D4D" stroke-width="1"/>
<path d="M708,931.6L708,938L706.4,946L703.4,952" fill="none" stroke="#4D4D4D" stroke-width="2"/>
<path d="M865,853L865,875.6" fill="none" stroke="#4D4D4D" stroke-width="2"/>
<path d="M863.6,936.4L861,946L858,954L855,959.6" fill="none" stroke="#4D4D4D" stroke-width="1"/>
<path d="M814.4,1018L808,1027L801.6,1035.6" fill="none" stroke="#4D4D4D" stroke-width="1"/>
<path d="M670.4,1037L670,1048L671.6,1059" fill="none" stroke="#4D4D4D" stroke-width="1"/>
<path d="M734,1112L744,1109L753.6,1105.4" fill="none" stroke="#4D4D4D" stroke-width="1"/>
<path d="M748,1060L749,1066L750,1072" fill="none" stroke="#4D4D4D" stroke-width="1"/>
<path d="M932,679L929.4,691L926.6,702.4" fill="none" stroke="#4D4D4D" stroke-width="2"/>
<path d="M916.4,738L909,748L902.4,756.4" fill="none" stroke="#4D4D4D" stroke-width="1"/>
<path d="M882.4,792L879,800L875.6,808" fill="none" stroke="#4D4D4D" stroke-width="1"/>
<path d="M697,1028L693,1032" fill="none" stroke="#4D4D4D" stroke-width="2"/>
<path d="M772,1026L778,1020L783,1019L784,1021L780,1025L775,1027.6L772,1027Z" fill="#D9D9D9" stroke="#4D4D4D" stroke-width="1"/>
<path d="M876,638h1v1h-1zM875,637h3v1h-3zM880,635h1v1h-1zM874,637h3v2h-3zM874,637h2v2h-2zM877,638h1v1h-1zM874,634h1v2h-1zM882,634h3v2h-3zM877,637h1v2h-1zM872,657h1v1h-1zM874,662h2v1h-2zM875,661h1v2h-1zM874,660h3v2h-3zM877,661h3v2h-3zM876,657h1v1h-1zM879,659h3v1h-3zM874,661h2v1h-2zM875,657h2v1h-2zM863,669h2v1h-2zM866,668h1v2h-1zM862,668h2v2h-2zM863,666h3v2h-3zM866,668h3v2h-3zM848,682h1v2h-1zM850,683h2v1h-2zM847,680h3v2h-3zM849,680h2v2h-2zM851,682h2v1h-2zM830,702h2v2h-2zM830,703h1v1h-1zM900,611h2v1h-2zM900,609h3v2h-3zM902,610h1v1h-1zM903,609h3v2h-3zM777,722h3v2h-3zM772,721h1v1h-1zM781,720h2v1h-2zM773,726h3v1h-3zM775,721h3v1h-3zM781,721h2v2h-2zM781,720h3v1h-3zM775,720h2v1h-2zM778,722h1v2h-1zM776,728h2v1h-2zM748,738h3v1h-3zM748,736h1v1h-1zM748,740h2v1h-2zM752,736h3v1h-3zM750,739h3v2h-3zM748,739h1v1h-1zM712,753h2v1h-2zM707,750h1v1h-1zM712,753h1v1h-1zM705,754h3v1h-3zM712,754h3v1h-3zM707,750h1v1h-1zM876,698h3v1h-3zM876,698h2v1h-2zM875,699h2v1h-2zM876,699h2v1h-2zM935,384h3v2h-3zM927,379h3v2h-3zM926,378h3v1h-3zM925,378h1v2h-1zM933,384h2v2h-2zM921,378h1v1h-1zM927,380h1v1h-1zM861,470h2v1h-2zM861,468h2v1h-2zM860,471h2v2h-2zM895,438h2v2h-2zM894,441h2v1h-2zM898,441h2v1h-2zM885,694h2v1h-2zM887,692h1v2h-1zM911,640h1v1h-1zM911,640h1v2h-1zM911,645h2v1h-2zM912,647h2v1h-2zM917,603h3v1h-3zM918,601h3v1h-3zM918,606h2v1h-2z" fill="#4D4D4D"/>
<path d="M917,565h6v1h3v2h1v3h-1v2h-2v2h-2v1h-2v-2h-2v-2h-2v-2h-2v-3h3z" fill="#666666"/>
<path d="M918,566h5v2h-5zM915,568h1v1h-1zM920,572h1v1h-1z" fill="#F2700F"/><path d="M921,570h1v2h-1zM919,572h1v1h-1z" fill="#fff"/>
<rect x="929" y="564" width="1" height="1" fill="#F2700F"/>
<path d="M922,559h4v2h-4zM916,562h3v1h-3zM918,563h7v2h-7zM925,553h2v1h-2zM927,554h2v1h-2zM931,554h2v1h-2zM931,566h1v1h-1zM917,556h2v1h-2zM919,555h1v1h-1z" fill="#4D4D4D"/>
</g>
<g shape-rendering="crispEdges">
<rect x="58" y="805.00" width="33" height="33.7" fill="#FFFFE5"/>
<text x="100" y="833.75" class="lt">0.020% - 0.044%</text>
<rect x="58" y="838.56" width="33" height="33.7" fill="#FFF8C1"/>
<text x="100" y="867.29" class="lt">0.044% - 0.065%</text>
<rect x="58" y="872.12" width="33" height="33.7" fill="#FEE79B"/>
<text x="100" y="900.83" class="lt">0.065% - 0.084%</text>
<rect x="58" y="905.68" width="33" height="33.7" fill="#FECE65"/>
<text x="100" y="934.37" class="lt">0.084% - 0.123%</text>
<rect x="58" y="939.24" width="33" height="33.7" fill="#FEAC3A"/>
<text x="100" y="967.91" class="lt">0.123% - 0.184%</text>
<rect x="58" y="972.80" width="33" height="33.7" fill="#F68720"/>
<text x="100" y="1001.45" class="lt">0.184% - 0.219%</text>
<rect x="58" y="1006.36" width="33" height="33.7" fill="#E1640E"/>
<text x="100" y="1034.99" class="lt">0.219% - 0.279%</text>
<rect x="58" y="1039.92" width="33" height="33.7" fill="#C14702"/>
<text x="100" y="1068.53" class="lt">0.279% - 0.332%</text>
<rect x="58" y="1073.48" width="33" height="33.7" fill="#933204"/>
<text x="100" y="1102.07" class="lt">0.332% - 0.500%</text>
<rect x="58" y="1107.04" width="33" height="33.7" fill="#662506"/>
<text x="100" y="1135.61" class="lt">0.500% - 2.000%</text>

<rect x="24" y="24" width="1" height="1152" fill="#000"/>
<rect x="24" y="24" width="1152" height="1" fill="#000"/>
<rect x="1174" y="24" width="2" height="1152" fill="#000"/>
<rect x="24" y="1174" width="1152" height="2" fill="#000"/>
</g>
<text x="48" y="107" class="t">父系： O-MF168516_ (不含下游)</text>
<text x="55" y="787.5" class="lg">相对占比</text>
<text x="945" y="1137.5" class="cr">作者:O1a溯源群</text>
</svg>
</body></html>
